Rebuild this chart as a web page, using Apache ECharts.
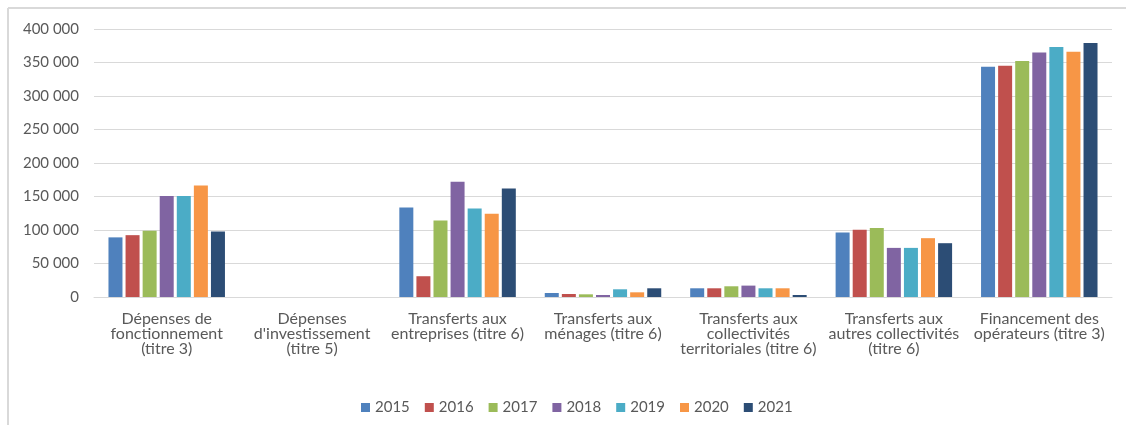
<!DOCTYPE html>
<html>
<head>
<meta charset="utf-8">
<script src="https://cdn.jsdelivr.net/npm/echarts@6/dist/echarts.min.js"></script>
<style>
  html, body { margin: 0; padding: 0; background: #fff; }
  #chart { width: 1126px; height: 425px; }
</style>
</head>
<body>
<div id="chart"></div>
<script>
// Budget lines (categories) and yearly amounts
const categories = [
  "Dépenses de\nfonctionnement\n(titre 3)",
  "Dépenses\nd'investissement\n(titre 5)",
  "Transferts aux\nentreprises (titre 6)",
  "Transferts aux\nménages (titre 6)",
  "Transferts aux\ncollectivités\nterritoriales (titre 6)",
  "Transferts aux\nautres collectivités\n(titre 6)",
  "Financement des\nopérateurs (titre 3)"
];
const years = ["2015", "2016", "2017", "2018", "2019", "2020", "2021"];

const v2015 = [89000, 0, 133700, 6000, 13000, 96300, 343600];
const v2016 = [92300, 0, 31000, 4500, 13000, 100300, 345100];
const v2017 = [98700, 0, 114300, 4000, 16000, 102800, 352100];
const v2018 = [150600, 0, 172000, 3000, 17000, 73300, 365100];
const v2019 = [150600, 0, 132200, 11500, 13000, 73300, 373100];
const v2020 = [166600, 0, 124200, 7000, 13000, 87800, 366100];
const v2021 = [97800, 0, 162100, 13000, 3000, 80300, 379100];

const yTicks = [0, 50000, 100000, 150000, 200000, 250000, 300000, 350000, 400000];

const seriesValues = [v2015, v2016, v2017, v2018, v2019, v2020, v2021];
const colors = ["#4F81BD", "#C0504D", "#9BBB59", "#8064A2", "#4BACC6", "#F79646", "#2C4D75"];

const fontFamily = "Lato, 'Open Sans', sans-serif";

const chart = echarts.init(document.getElementById("chart"), null, { renderer: "canvas" });

function fmt(v) {
  return String(v).replace(/\B(?=(\d{3})+(?!\d))/g, " ");
}

chart.setOption({
  animation: false,
  color: colors,
  textStyle: { fontFamily: fontFamily },
  graphic: [
    { type: "line", shape: { x1: 8, y1: 8, x2: 1126, y2: 8 }, style: { stroke: "#D9D9D9", lineWidth: 2 } },
    { type: "line", shape: { x1: 8, y1: 8, x2: 8, y2: 425 }, style: { stroke: "#D9D9D9", lineWidth: 2 } }
  ],
  grid: { left: 94, right: 14, top: 29, bottom: 128, containLabel: false },
  legend: {
    data: years,
    top: 395,
    left: 356,
    icon: "rect",
    itemWidth: 9,
    itemHeight: 9,
    itemGap: 15,
    textStyle: { color: "#595959", fontSize: 15, fontFamily: fontFamily }
  },
  xAxis: {
    type: "category",
    data: categories,
    axisLine: { lineStyle: { color: "#D9D9D9", width: 1 } },
    axisTick: { show: false },
    axisLabel: {
      interval: 0,
      color: "#595959",
      fontSize: 16,
      lineHeight: 15,
      margin: 14,
      fontFamily: fontFamily
    }
  },
  yAxis: {
    type: "value",
    min: yTicks[0],
    max: yTicks[yTicks.length - 1],
    interval: yTicks[1] - yTicks[0],
    axisLine: { show: false },
    axisTick: { show: false },
    splitLine: { lineStyle: { color: "#D9D9D9", width: 1 } },
    axisLabel: {
      color: "#595959",
      fontSize: 15,
      margin: 15,
      fontFamily: fontFamily,
      formatter: fmt
    }
  },
  series: years.map((y, i) => ({
    name: y,
    type: "bar",
    data: seriesValues[i],
    barWidth: 14,
    barGap: "22%",
    itemStyle: { color: colors[i] }
  }))
});
</script>
</body>
</html>
